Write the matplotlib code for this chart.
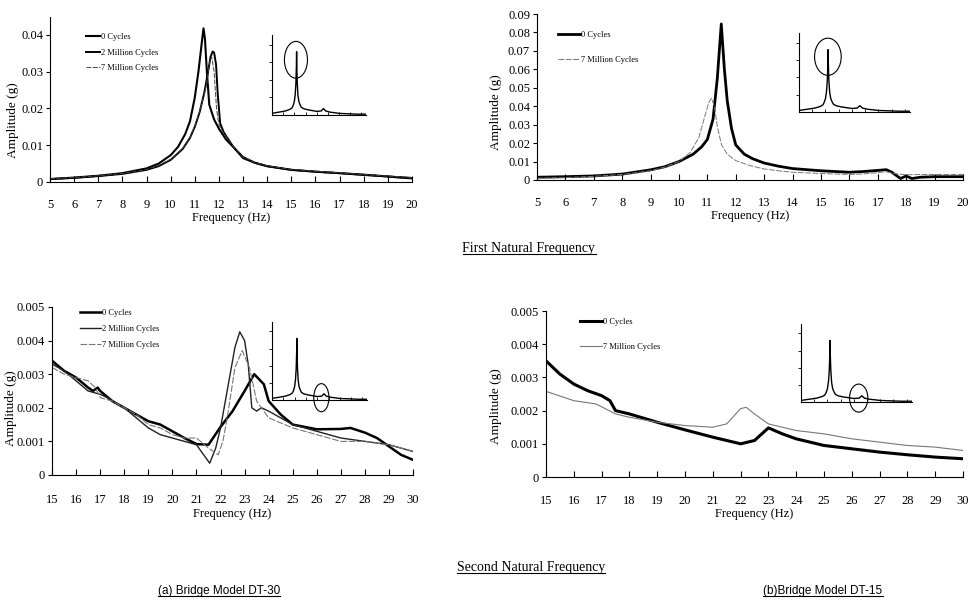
import numpy as np
import matplotlib
matplotlib.use("Agg")
import matplotlib.pyplot as plt
from matplotlib.patches import Ellipse
from matplotlib.lines import Line2D

plt.rcParams["font.family"] = ["Liberation Serif", "DejaVu Serif"]

# ---- first natural frequency, DT-30 ----
tl_f0 = [5, 6, 7, 8, 9, 9.5, 10, 10.3, 10.6, 10.8, 11.0, 11.15, 11.3, 11.36, 11.42, 11.5,
         11.6, 11.8, 12.0, 12.3, 12.6, 13, 13.5, 14, 15, 16, 17, 18, 19, 19.5, 20]
tl_a0 = [0.0008, 0.0012, 0.0017, 0.0024, 0.0037, 0.0050, 0.0073, 0.0095, 0.0130, 0.0165,
         0.0230, 0.0300, 0.0385, 0.0418, 0.0390, 0.0300, 0.0210, 0.0170, 0.0145, 0.0115,
         0.0095, 0.0065, 0.0052, 0.0043, 0.0033, 0.0028, 0.0024, 0.0020, 0.0015, 0.0012, 0.0010]
tl_f2 = [5, 6, 7, 8, 9, 9.5, 10, 10.5, 10.8, 11.0, 11.2, 11.4, 11.55, 11.65, 11.74, 11.8,
         11.88, 11.95, 12.05, 12.2, 12.35, 12.6, 13, 13.5, 14, 15, 16, 17, 18, 19, 20]
tl_a2 = [0.0008, 0.0011, 0.0016, 0.0022, 0.0033, 0.0043, 0.0060, 0.0090, 0.0120, 0.0150,
         0.0190, 0.0245, 0.0300, 0.0340, 0.0355, 0.0352, 0.0320, 0.0240, 0.0160, 0.0135,
         0.0120, 0.0095, 0.0068, 0.0052, 0.0043, 0.0033, 0.0028, 0.0024, 0.0019, 0.0015, 0.0011]
tl_f7 = [5, 6, 7, 8, 9, 9.5, 10, 10.5, 10.8, 11.0, 11.2, 11.4, 11.5, 11.62, 11.7, 11.8,
         11.9, 12.0, 12.2, 12.4, 12.6, 13, 13.5, 14, 15, 16, 17, 18, 19, 20]
tl_a7 = [0.0009, 0.0012, 0.0017, 0.0023, 0.0034, 0.0045, 0.0062, 0.0092, 0.0122, 0.0152,
         0.0192, 0.0240, 0.0270, 0.0330, 0.0340, 0.0300, 0.0200, 0.0155, 0.0132, 0.0115,
         0.0096, 0.0068, 0.0053, 0.0044, 0.0034, 0.0029, 0.0025, 0.0020, 0.0016, 0.0012]

# ---- first natural frequency, DT-15 ----
tr_f0 = [5, 6, 7, 8, 9, 9.5, 10, 10.5, 10.8, 11.0, 11.2, 11.35, 11.49, 11.6, 11.7, 11.85,
         12.0, 12.3, 12.6, 13, 13.5, 14, 15, 16, 16.5, 17, 17.3, 17.5, 17.8, 18.0, 18.2,
         18.5, 19, 20]
tr_a0 = [0.0015, 0.0018, 0.0022, 0.0032, 0.0055, 0.0072, 0.0100, 0.0140, 0.0180, 0.0220,
         0.0330, 0.0550, 0.0846, 0.0600, 0.0430, 0.0280, 0.0190, 0.0140, 0.0115, 0.0092,
         0.0075, 0.0062, 0.0050, 0.0042, 0.0046, 0.0052, 0.0056, 0.0042, 0.0008, 0.0022,
         0.0008, 0.0015, 0.0018, 0.0018]
tr_f7 = [5, 6, 7, 8, 9, 9.5, 10, 10.4, 10.7, 10.9, 11.05, 11.14, 11.25, 11.35, 11.5, 11.7,
         12.0, 12.5, 13, 13.5, 14, 15, 16, 16.5, 17, 17.3, 17.6, 18, 18.5, 19, 20]
tr_a7 = [0.0010, 0.0013, 0.0020, 0.0030, 0.0050, 0.0070, 0.0100, 0.0150, 0.0230, 0.0340,
         0.0420, 0.0443, 0.0400, 0.0290, 0.0190, 0.0140, 0.0105, 0.0078, 0.0060, 0.0050,
         0.0042, 0.0035, 0.0030, 0.0033, 0.0040, 0.0045, 0.0035, 0.0028, 0.0030, 0.0030, 0.0030]

# ---- second natural frequency, DT-30 ----
bl_f0 = [15, 15.5, 16, 16.5, 16.7, 16.9, 17, 17.5, 18, 18.5, 19, 19.5, 20, 20.5, 21, 21.5,
         22, 22.5, 23, 23.4, 23.8, 24, 24.5, 25, 26, 27, 27.4, 28, 28.5, 29, 29.5, 30]
bl_a0 = [0.0034, 0.0031, 0.0029, 0.0026, 0.0025, 0.0026, 0.0025, 0.0022, 0.0020, 0.0018,
         0.0016, 0.0015, 0.0013, 0.0011, 0.00092, 0.0009, 0.00143, 0.0019, 0.0025, 0.0030,
         0.0027, 0.0022, 0.0018, 0.0015, 0.00136, 0.00137, 0.0014, 0.00126, 0.0011, 0.00085,
         0.0006, 0.00045]
bl_f2 = [15, 15.5, 16, 16.5, 17, 17.3, 18, 18.5, 19, 19.5, 20, 20.5, 21, 21.3, 21.55, 21.8,
         22, 22.2, 22.4, 22.6, 22.8, 23.0, 23.15, 23.3, 23.5, 23.7, 24, 25, 26, 27, 28, 29, 30]
bl_a2 = [0.0033, 0.0031, 0.0028, 0.0025, 0.0024, 0.0023, 0.0020, 0.0017, 0.0014, 0.0012,
         0.0011, 0.0010, 0.0009, 0.0006, 0.00035, 0.0008, 0.0014, 0.0022, 0.0030, 0.0038,
         0.00426, 0.0040, 0.0033, 0.0020, 0.0019, 0.0020, 0.0019, 0.0015, 0.0013, 0.0011,
         0.0010, 0.0009, 0.0007]
bl_f7 = [15, 15.5, 16, 16.5, 16.8, 17, 17.5, 18, 18.5, 19, 19.5, 20, 20.5, 21, 21.5, 21.9,
         22.1, 22.3, 22.6, 22.9, 23.2, 23.5, 24, 25, 26, 27, 28, 29, 30]
bl_a7 = [0.0032, 0.0030, 0.0029, 0.0028, 0.0026, 0.0023, 0.0022, 0.0020, 0.0018, 0.0015,
         0.0014, 0.0012, 0.0011, 0.0011, 0.0008, 0.0006, 0.0010, 0.0018, 0.0032, 0.0037,
         0.0032, 0.0022, 0.0017, 0.0014, 0.0012, 0.0010, 0.0010, 0.0009, 0.0007]

# ---- second natural frequency, DT-15 ----
br_f0 = [15, 15.5, 16, 16.5, 17, 17.3, 17.5, 18, 19, 20, 21, 22, 22.5, 23, 23.5, 24, 25,
         26, 27, 28, 29, 30]
br_a0 = [0.0035, 0.0031, 0.0028, 0.0026, 0.00245, 0.0023, 0.0020, 0.0019, 0.00165, 0.00142,
         0.0012, 0.0010, 0.0011, 0.00148, 0.0013, 0.00115, 0.00095, 0.00085, 0.00075,
         0.00067, 0.0006, 0.00055]
br_f7 = [15, 16, 16.8, 17.5, 18, 19, 20, 21, 21.5, 22, 22.2, 22.5, 23, 24, 25, 26, 27, 28,
         29, 30]
br_a7 = [0.00258, 0.0023, 0.0022, 0.0019, 0.0018, 0.00165, 0.00155, 0.0015, 0.0016, 0.00206,
         0.0021, 0.0019, 0.0016, 0.0014, 0.0013, 0.00115, 0.00105, 0.00095, 0.0009, 0.0008]

# full-range spectrum shown in the small windows (relative amplitude)
full_f = [0, 2, 4, 6, 8, 9, 9.5, 10, 10.4, 10.7, 10.9, 11, 11.1, 11.3, 11.6, 12, 12.5, 13,
          14, 16, 18, 20, 22, 23, 24, 26, 28, 30, 34, 38, 42]
full_a = [0.02, 0.03, 0.04, 0.05, 0.07, 0.09, 0.12, 0.17, 0.26, 0.40, 0.60, 0.79, 0.60,
          0.40, 0.25, 0.17, 0.13, 0.10, 0.08, 0.065, 0.055, 0.045, 0.05, 0.08, 0.05, 0.035,
          0.028, 0.02, 0.015, 0.01, 0.01]

labels = ["0 Cycles", "2 Million Cycles", "7 Million Cycles"]

fig = plt.figure(figsize=(9.71, 6.01), dpi=100)


def panel(rect, xlim, ylim, yticks, yfmt, ylab_xy, pad):
    ax = fig.add_axes(rect)
    ax.set_xlim(*xlim)
    ax.set_ylim(*ylim)
    ax.set_xticks(range(xlim[0], xlim[1] + 1))
    ax.set_yticks(yticks)
    ax.set_yticklabels(["0"] + [yfmt % v for v in yticks[1:]])
    for s in ("top", "right"):
        ax.spines[s].set_visible(False)
    ax.tick_params(axis="x", direction="in", length=4, pad=pad, labelsize=9)
    ax.tick_params(axis="y", direction="out", length=3, pad=2, labelsize=9)
    ax.set_xlabel("Frequency (Hz)", fontsize=9, labelpad=1)
    ax.set_ylabel("Amplitude (g)", fontsize=9.5)
    ax.yaxis.set_label_coords(*ylab_xy)
    return ax


def inset(rect, circ):
    ax = fig.add_axes(rect)
    ax.plot(full_f, full_a, color="black", lw=1)
    ax.set_xlim(0, 42)
    ax.set_ylim(0, 1)
    ax.set_xticks(range(0, 41, 5))
    ax.set_yticks([0.22, 0.44, 0.66, 0.88])
    ax.set_xticklabels([])
    ax.set_yticklabels([])
    ax.tick_params(axis="x", length=2, width=0.6, direction="in")
    ax.tick_params(axis="y", length=2, width=0.6, direction="out")
    for s in ("top", "right"):
        ax.spines[s].set_visible(False)
    ax.add_patch(Ellipse(circ[:2], circ[2], circ[3], transform=ax.transAxes,
                         fill=False, lw=0.8, color="black", clip_on=False))


# First natural frequency, DT-30
ax = panel([0.0515, 0.6972, 0.3728, 0.2752], (5, 20), (0, 0.045),
           [0, 0.01, 0.02, 0.03, 0.04], "%.2f", (-0.085, 0.375), 12)
ax.plot(tl_f0, tl_a0, color="black", lw=1.5, label=labels[0])
ax.plot(tl_f2, tl_a2, color="black", lw=1.4, label=labels[1])
ax.plot(tl_f7, tl_a7, color="#444444", lw=0.7, ls=(0, (5, 1.5)), label=labels[2])
ax.legend(loc="upper left", bbox_to_anchor=(0.1, 0.9), frameon=False, fontsize=6,
          handlelength=1.7, handletextpad=0.1, labelspacing=0.9, borderpad=0,
          borderaxespad=0)
inset([0.2801, 0.8087, 0.0968, 0.1331], (0.255, 0.69, 0.245, 0.46))

# First natural frequency, DT-15
ax = panel([0.553, 0.7005, 0.4387, 0.2762], (5, 20), (0, 0.09),
           [0, 0.01, 0.02, 0.03, 0.04, 0.05, 0.06, 0.07, 0.08, 0.09], "%.2f",
           (-0.082, 0.41), 12)
ax.plot(tr_f0, tr_a0, color="black", lw=2.0, label=labels[0])
ax.plot(tr_f7, tr_a7, color="#777777", lw=0.7, ls=(0, (6, 1.5)), label=labels[2])
ax.legend(loc="upper left", bbox_to_anchor=(0.05, 0.9), frameon=False, fontsize=6,
          handlelength=2.6, handletextpad=0.1, labelspacing=2.1, borderpad=0,
          borderaxespad=0)
inset([0.8229, 0.8136, 0.1143, 0.1314], (0.26, 0.70, 0.24, 0.47))

# Second natural frequency, DT-30
ax = panel([0.0536, 0.2097, 0.3718, 0.2795], (15, 30), (0, 0.005),
           [0, 0.001, 0.002, 0.003, 0.004, 0.005], "%.3f", (-0.098, 0.40), 14)
ax.plot(bl_f0, bl_a0, color="black", lw=1.8, label=labels[0])
ax.plot(bl_f2, bl_a2, color="#222222", lw=1.0, label=labels[1])
ax.plot(bl_f7, bl_a7, color="#777777", lw=0.8, ls=(0, (6, 1.5)), label=labels[2])
ax.legend(loc="upper left", bbox_to_anchor=(0.078, 0.99), frameon=False, fontsize=6,
          handlelength=2.5, handletextpad=0.1, labelspacing=1.0, borderpad=0,
          borderaxespad=0)
inset([0.2801, 0.3344, 0.0978, 0.1298], (0.52, 0.03, 0.16, 0.36))

# Second natural frequency, DT-15
ax = panel([0.5623, 0.2063, 0.4295, 0.2762], (15, 30), (0, 0.005),
           [0, 0.001, 0.002, 0.003, 0.004, 0.005], "%.3f", (-0.105, 0.43), 13)
ax.plot(br_f0, br_a0, color="black", lw=2.2, label=labels[0])
ax.plot(br_f7, br_a7, color="#777777", lw=0.8, label=labels[2])
ax.legend(loc="upper left", bbox_to_anchor=(0.082, 0.96), frameon=False, fontsize=6,
          handlelength=2.6, handletextpad=0.1, labelspacing=2.1, borderpad=0,
          borderaxespad=0)
inset([0.8249, 0.3311, 0.1143, 0.1298], (0.52, 0.05, 0.165, 0.36))

# captions, underlined
captions = [
    (529 / 971, 1 - 248 / 601, "First Natural Frequency", "serif", 10),
    (531 / 971, 1 - 567 / 601, "Second Natural Frequency", "serif", 10),
    (219 / 971, 1 - 591 / 601, "(a) Bridge Model DT-30", "sans", 8.5),
    (823 / 971, 1 - 591 / 601, "(b)Bridge Model DT-15", "sans", 8.5),
]
texts = []
for x, y, s, fam, size in captions:
    fams = ["Liberation Serif"] if fam == "serif" else ["Liberation Sans"]
    texts.append(fig.text(x, y, s, ha="center", va="center", fontsize=size, family=fams))

fig.canvas.draw()
renderer = fig.canvas.get_renderer()
inv = fig.transFigure.inverted()
for t in texts:
    bb = t.get_window_extent(renderer)
    (x0, y0), (x1, _) = inv.transform([(bb.x0, bb.y0 + 1), (bb.x1, bb.y0 + 1)])
    fig.add_artist(Line2D([x0, x1], [y0, y0], transform=fig.transFigure,
                          color="black", lw=0.8))

fig.savefig("out.png", dpi=100)
